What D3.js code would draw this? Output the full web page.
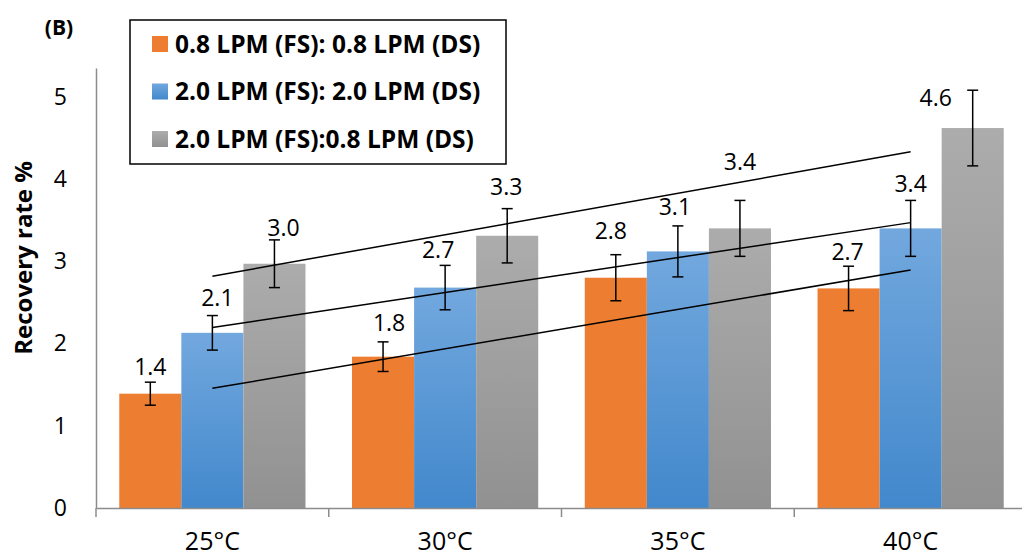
<!DOCTYPE html>
<html>
<head>
<meta charset="utf-8">
<title>Recovery rate</title>
<script src="https://d3js.org/d3.v7.min.js"></script>
<style>
  body { margin: 0; background: #fff; }
  svg { font-family: "Open Sans", sans-serif; display: block; }
</style>
</head>
<body>
<svg id="chart" width="1022" height="559"></svg>
<script>
// data
const categories = ["25°C", "30°C", "35°C", "40°C"];
const seriesNames = ["0.8 LPM (FS): 0.8 LPM (DS)", "2.0 LPM (FS): 2.0 LPM (DS)", "2.0 LPM (FS):0.8 LPM (DS)"];
const orangeValues = [1.39, 1.84, 2.80, 2.67];
const blueValues = [2.13, 2.68, 3.12, 3.40];
const grayValues = [2.97, 3.31, 3.40, 4.62];
const orangeErrors = [0.14, 0.18, 0.28, 0.27];
const blueErrors = [0.21, 0.27, 0.31, 0.34];
const grayErrors = [0.29, 0.33, 0.34, 0.46];
const orangeLabels = ["1.4", "1.8", "2.8", "2.7"];
const blueLabels = ["2.1", "2.7", "3.1", "3.4"];
const grayLabels = ["3.0", "3.3", "3.4", "4.6"];
const yTicks = [0, 1, 2, 3, 4, 5];

// labels were hand-moved in the original, nudges in px
const labelNudge = [
  [[0, 1], [6, -3], [-5, -8], [-1, 2]],
  [[5, -2], [-7, 0], [-3, -3], [0, -1]],
  [[9, 4], [-1, -6], [0, -23], [-37, 24]]
];

const series = [
  { values: orangeValues, errors: orangeErrors, labels: orangeLabels, fill: "#ED7D31", grad: null },
  { values: blueValues, errors: blueErrors, labels: blueLabels, fill: "url(#gBlue)", grad: ["#72A8DE", "#4288CC"] },
  { values: grayValues, errors: grayErrors, labels: grayLabels, fill: "url(#gGray)", grad: ["#ACACAC", "#919191"] }
];

const svg = d3.select("#chart");
const m = { left: 96, right: 1027, top: 68, bottom: 508 };

const y = d3.scaleLinear().domain([0, 5.35]).range([m.bottom, m.top]);
const x = d3.scaleBand().domain(categories).range([m.left, m.right]).padding(0);
const inner = d3.scaleBand().domain(d3.range(series.length))
  .range([x.bandwidth() * 0.1, x.bandwidth() * 0.9]).padding(0);

const defs = svg.append("defs");
defs.append("linearGradient").attr("id", "gBlue").attr("x1", 0).attr("y1", 0).attr("x2", 0).attr("y2", 1)
  .selectAll("stop").data(series[1].grad).join("stop")
  .attr("offset", (d, i) => i).attr("stop-color", d => d);
defs.append("linearGradient").attr("id", "gGray").attr("x1", 0).attr("y1", 0).attr("x2", 0).attr("y2", 1)
  .selectAll("stop").data(series[2].grad).join("stop")
  .attr("offset", (d, i) => i).attr("stop-color", d => d);

// bars
series.forEach((s, si) => {
  svg.append("g").selectAll("rect")
    .data(s.values)
    .join("rect")
    .attr("x", (d, i) => x(categories[i]) + inner(si))
    .attr("y", d => y(d))
    .attr("width", inner.bandwidth())
    .attr("height", d => y(0) - y(d))
    .attr("fill", s.fill);
});

// linear trend lines (least squares over category index)
series.forEach((s, si) => {
  const n = s.values.length;
  const xs = d3.range(1, n + 1);
  const mx = d3.mean(xs), my = d3.mean(s.values);
  const slope = d3.sum(xs, (v, i) => (v - mx) * (s.values[i] - my)) / d3.sum(xs, v => (v - mx) ** 2);
  const icpt = my - slope * mx;
  const cx = i => x(categories[i]) + x.bandwidth() / 2;
  svg.append("line")
    .attr("x1", cx(0)).attr("y1", y(icpt + slope * 1))
    .attr("x2", cx(n - 1)).attr("y2", y(icpt + slope * n))
    .attr("stroke", "#000").attr("stroke-width", 1.5);
});

// error bars
series.forEach((s, si) => {
  const g = svg.append("g").attr("stroke", "#000").attr("stroke-width", 1.5);
  s.values.forEach((v, i) => {
    const cx = x(categories[i]) + inner(si) + inner.bandwidth() / 2;
    const y1 = y(v + s.errors[i]), y2 = y(v - s.errors[i]);
    g.append("line").attr("x1", cx).attr("x2", cx).attr("y1", y1).attr("y2", y2);
    g.append("line").attr("x1", cx - 5.5).attr("x2", cx + 5.5).attr("y1", y1).attr("y2", y1);
    g.append("line").attr("x1", cx - 5.5).attr("x2", cx + 5.5).attr("y1", y2).attr("y2", y2);
  });
});

// data labels
series.forEach((s, si) => {
  svg.append("g").selectAll("text")
    .data(s.labels)
    .join("text")
    .attr("x", (d, i) => x(categories[i]) + inner(si) + inner.bandwidth() / 2 + labelNudge[si][i][0])
    .attr("y", (d, i) => y(s.values[i] + s.errors[i]) - 16 + labelNudge[si][i][1])
    .attr("dy", "0.36em")
    .attr("text-anchor", "middle")
    .attr("font-size", 23)
    .attr("fill", "#000")
    .text(d => d);
});

// y axis
const yAxis = svg.append("g")
  .attr("transform", `translate(${m.left},0)`)
  .call(d3.axisLeft(y).tickValues(yTicks).tickFormat(d3.format("d")).tickSize(0).tickPadding(29));
yAxis.select(".domain").attr("stroke", "#8C8C8C").attr("stroke-width", 1.5);
yAxis.selectAll("text").attr("font-size", 23).attr("fill", "#000").attr("font-family", "Open Sans");

// x axis
const xAxis = svg.append("g")
  .attr("transform", `translate(0,${m.bottom})`)
  .call(d3.axisBottom(x).tickSize(0).tickPadding(24).tickSizeOuter(0));
xAxis.select(".domain").attr("stroke", "#8C8C8C").attr("stroke-width", 1.5);
xAxis.selectAll("text").attr("font-size", 25).attr("fill", "#000").attr("font-family", "Open Sans");
svg.append("g").selectAll("line")
  .data(categories.map(c => x(c)).concat([m.right]))
  .join("line")
  .attr("x1", d => d).attr("x2", d => d)
  .attr("y1", m.bottom).attr("y2", m.bottom + 9)
  .attr("stroke", "#8C8C8C").attr("stroke-width", 1.5);

// y axis title
svg.append("text")
  .attr("transform", "translate(23,258) rotate(-90)")
  .attr("text-anchor", "middle")
  .attr("dy", "0.36em")
  .attr("font-size", 24).attr("font-weight", "bold")
  .text("Recovery rate %");

// panel tag
svg.append("text").attr("x", 59).attr("y", 27).attr("dy", "0.36em").attr("text-anchor", "middle")
  .attr("font-size", 21).attr("font-weight", "bold").text("(B)");

// legend
const legend = svg.append("g").attr("transform", "translate(130,20)");
legend.append("rect").attr("width", 376).attr("height", 144)
  .attr("fill", "#fff").attr("stroke", "#000").attr("stroke-width", 1.5);
const item = legend.selectAll("g.item").data(seriesNames).join("g")
  .attr("class", "item")
  .attr("transform", (d, i) => `translate(22,${24 + i * 47.5})`);
item.append("rect").attr("y", -8).attr("width", 16).attr("height", 16)
  .attr("fill", (d, i) => series[i].fill);
item.append("text").attr("x", 23).attr("dy", "0.36em")
  .attr("font-size", 24.5).attr("font-weight", "bold").text(d => d);
</script>
</body>
</html>
